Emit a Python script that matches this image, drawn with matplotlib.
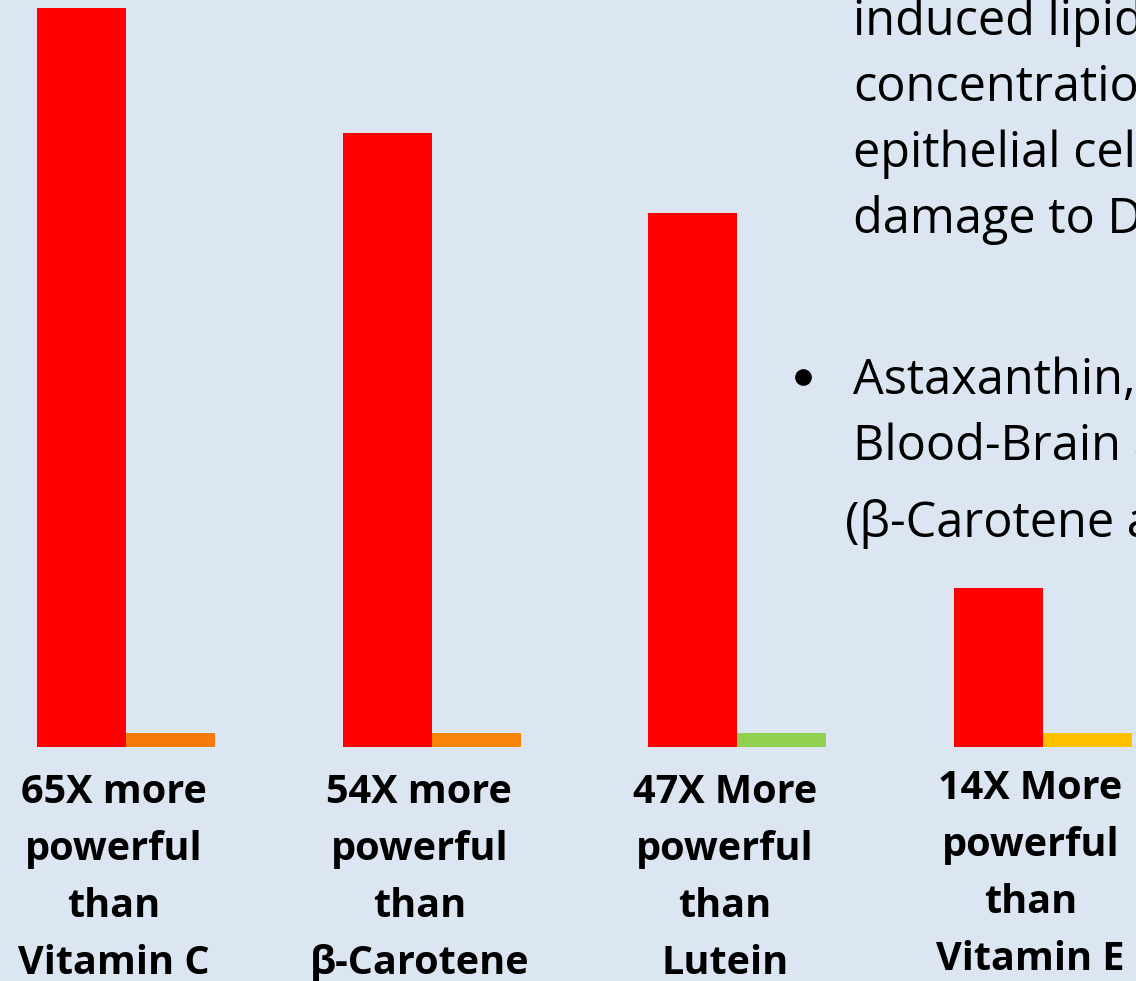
import matplotlib.pyplot as plt
import matplotlib.transforms as mtransforms
from matplotlib.lines import Line2D
import numpy as np

# data
astaxanthin = [65, 54, 47, 14]
others = [1.2, 1.2, 1.2, 1.2]
other_colors = ["#F47A0E", "#F8830A", "#92D050", "#FFC000"]
labels = [
    "65X more\npowerful\nthan\nVitamin C",
    "54X more\npowerful\nthan\nβ-Carotene",
    "47X More\npowerful\nthan\nLutein",
    "14X More\npowerful\nthan\nVitamin E",
]
side_text = ["induced lipid", "concentratio", "epithelial cel", "damage to D"]
bullet_text = ["Astaxanthin,", "Blood-Brain a"]
note_text = "(β-Carotene a"

W, H = 1136, 981
bg = "#DCE6F2"
plt.rcParams["font.family"] = ["Open Sans", "DejaVu Sans"]

fig = plt.figure(figsize=(W / 100, H / 100), dpi=100, facecolor=bg)
ax = fig.add_axes([0, 0, 1, 1])
ax.set_facecolor(bg)

x = np.arange(len(astaxanthin))
step = 305.5  # pixels between groups
width = 89 / step
ax.bar(x - width / 2, astaxanthin, width=width, color="#FF0000")
ax.bar(x + width / 2, others, width=width, color=other_colors)

ax.set_xlim(-126 / step, (W - 126) / step)
px_per_unit = 739 / 65
ax.set_ylim(-234 / px_per_unit, (H - 234) / px_per_unit)
ax.axis("off")

# labels under each group
trans = mtransforms.blended_transform_factory(ax.transData, fig.transFigure)
for i, lab in enumerate(labels):
    top = 799 if i == 3 else 803
    for j, line in enumerate(lab.split("\n")):
        ax.text(i - 0.04, 1 - (top + 57 * j) / H, line, transform=trans,
                ha="center", va="baseline", fontsize=28.5, fontweight="bold",
                color="black")

# partial slide text on the right (cut at the edge, as in the slide)
for j, line in enumerate(side_text):
    fig.text(853 / W, 1 - (35 + 66 * j) / H, line, ha="left", va="baseline",
             fontsize=35, color="black")
fig.add_artist(Line2D([803 / W], [1 - 377 / H], marker="o", ms=11,
                      color="black", transform=fig.transFigure))
for j, line in enumerate(bullet_text):
    fig.text(853 / W, 1 - (394 + 66 * j) / H, line, ha="left",
             va="baseline", fontsize=35, color="black")
fig.text(845 / W, 1 - 537 / H, note_text, ha="left", va="baseline",
         fontsize=35, color="black")

fig.savefig("out.png", dpi=100, facecolor=bg)
